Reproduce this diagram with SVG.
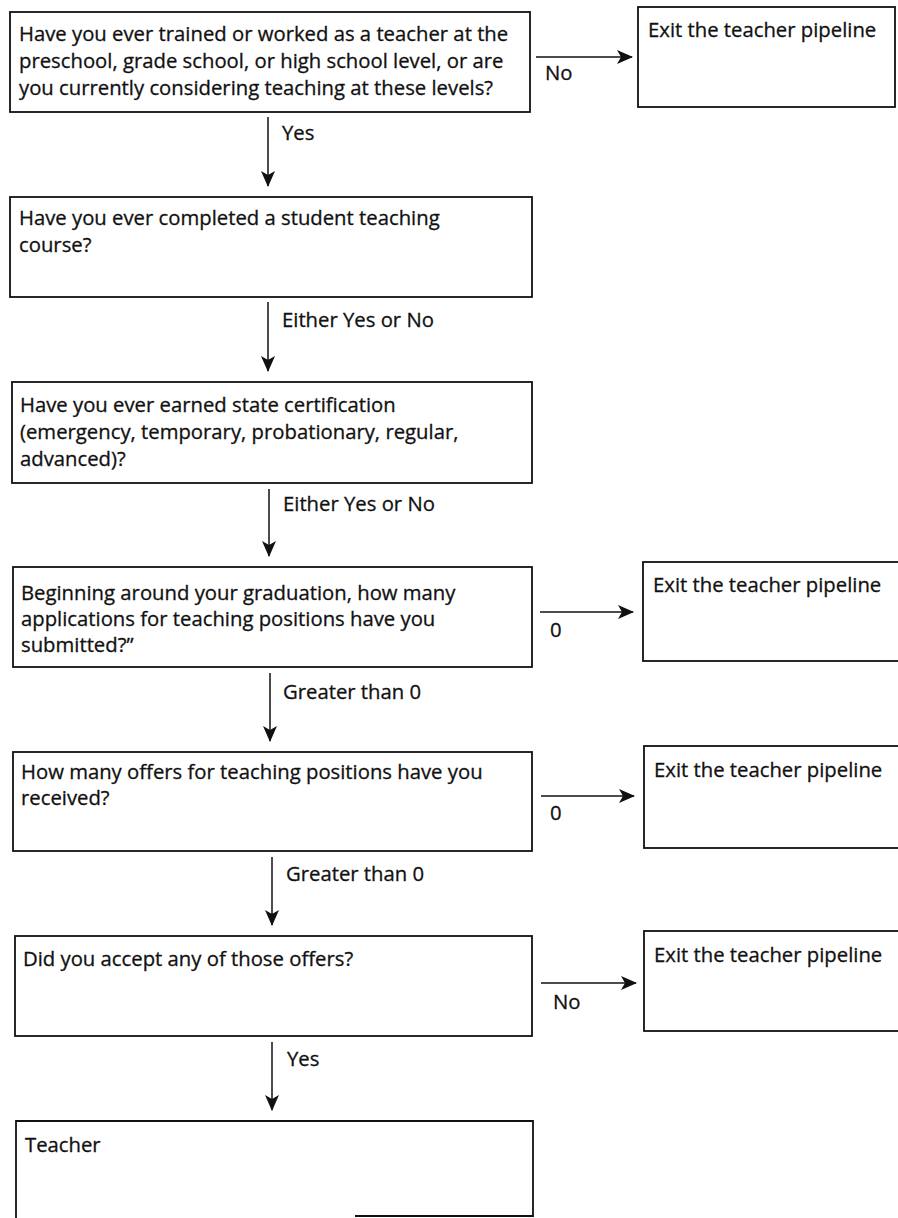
<svg xmlns="http://www.w3.org/2000/svg" width="898" height="1218" viewBox="0 0 898 1218">
<style>
.box{fill:#fff;stroke:#111;stroke-width:1.8}
.t{font-family:"Open Sans","Liberation Sans",sans-serif;font-size:20.3px;fill:#111;stroke:#111;stroke-width:0.3}
.c{stroke:#111;stroke-width:1.5;fill:none}
</style>
<defs>
<marker id="ah" viewBox="0 0 16 14" refX="15" refY="7" markerWidth="16" markerHeight="14" markerUnits="userSpaceOnUse" orient="auto">
<path d="M0,0 L16,7 L0,14 L4,7 Z" fill="#111"/>
</marker>
</defs>
<rect width="898" height="1218" fill="#fff"/>
<g id="q1">
<rect class="box" x="10" y="12" width="520" height="100"/>
<text class="t" x="19" y="41">Have you ever trained or worked as a teacher at the</text>
<text class="t" x="19" y="68">preschool, grade school, or high school level, or are</text>
<text class="t" x="19" y="95">you currently considering teaching at these levels?</text>
</g>
<g id="exit1">
<rect class="box" x="638" y="7" width="257" height="100"/>
<text class="t" x="648" y="37">Exit the teacher pipeline</text>
</g>
<g id="q2">
<rect class="box" x="10" y="197" width="522" height="100"/>
<text class="t" x="19" y="225">Have you ever completed a student teaching</text>
<text class="t" x="19" y="252">course?</text>
</g>
<g id="q3">
<rect class="box" x="12" y="382" width="520" height="101"/>
<text class="t" x="20" y="412">Have you ever earned state certification</text>
<text class="t" x="20" y="439">(emergency, temporary, probationary, regular,</text>
<text class="t" x="20" y="466">advanced)?</text>
</g>
<g id="q4">
<rect class="box" x="13" y="567" width="519" height="100"/>
<text class="t" x="21" y="600">Beginning around your graduation, how many</text>
<text class="t" x="21" y="626">applications for teaching positions have you</text>
<text class="t" x="21" y="652">submitted?”</text>
</g>
<g id="exit2">
<rect class="box" x="643" y="562" width="262" height="99"/>
<text class="t" x="653" y="592">Exit the teacher pipeline</text>
</g>
<g id="q5">
<rect class="box" x="13" y="752" width="519" height="99"/>
<text class="t" x="21" y="779">How many offers for teaching positions have you</text>
<text class="t" x="21" y="805">received?</text>
</g>
<g id="exit3">
<rect class="box" x="644" y="746" width="262" height="102"/>
<text class="t" x="654" y="777">Exit the teacher pipeline</text>
</g>
<g id="q6">
<rect class="box" x="15" y="936" width="517" height="100"/>
<text class="t" x="23" y="966">Did you accept any of those offers?</text>
</g>
<g id="exit4">
<rect class="box" x="644" y="931" width="262" height="100"/>
<text class="t" x="654" y="962">Exit the teacher pipeline</text>
</g>
<g id="teacher">
<path class="box" d="M16,1222 L16,1121 L533,1121 L533,1216 L355,1216"/>
<text class="t" x="25" y="1152">Teacher</text>
</g>
<g id="connectors">
<line class="c" x1="536" y1="57" x2="632" y2="57" marker-end="url(#ah)"/>
<text class="t" x="545" y="80">No</text>
<line class="c" x1="268" y1="117" x2="268" y2="186" marker-end="url(#ah)"/>
<text class="t" x="282" y="140">Yes</text>
<line class="c" x1="268" y1="302" x2="268" y2="371" marker-end="url(#ah)"/>
<text class="t" x="282" y="327">Either Yes or No</text>
<line class="c" x1="269" y1="489" x2="269" y2="556" marker-end="url(#ah)"/>
<text class="t" x="283" y="511">Either Yes or No</text>
<line class="c" x1="540" y1="612" x2="633" y2="612" marker-end="url(#ah)"/>
<text class="t" x="550" y="637">0</text>
<line class="c" x1="270" y1="673" x2="270" y2="741" marker-end="url(#ah)"/>
<text class="t" x="283" y="699">Greater than 0</text>
<line class="c" x1="541" y1="796" x2="634" y2="796" marker-end="url(#ah)"/>
<text class="t" x="550" y="820">0</text>
<line class="c" x1="272" y1="857" x2="272" y2="925" marker-end="url(#ah)"/>
<text class="t" x="286" y="881">Greater than 0</text>
<line class="c" x1="541" y1="983" x2="636" y2="983" marker-end="url(#ah)"/>
<text class="t" x="553" y="1009">No</text>
<line class="c" x1="272" y1="1042" x2="272" y2="1110" marker-end="url(#ah)"/>
<text class="t" x="287" y="1066">Yes</text>
</g>
</svg>
